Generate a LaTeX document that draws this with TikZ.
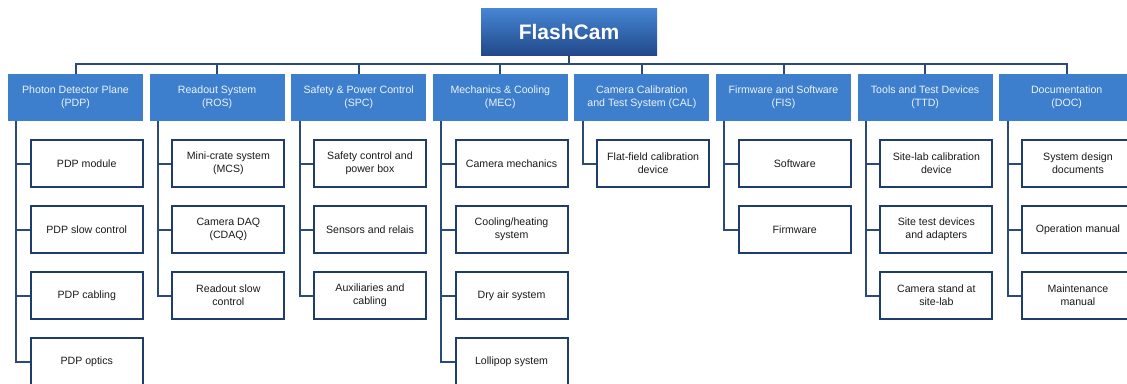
\documentclass[tikz,border=0pt]{standalone}
\usepackage{fontspec}
\setmainfont{Liberation Sans}
\definecolor{hdrfill}{HTML}{3D7FCC}
\definecolor{fctop}{HTML}{4686D4}
\definecolor{fcbot}{HTML}{21498A}
\definecolor{kidline}{HTML}{1F3D6B}
\definecolor{connline}{HTML}{2A4A7C}
\definecolor{hdrtext}{HTML}{EEF3FA}
\definecolor{kidtext}{HTML}{1A1A1A}
\tikzset{
  hdr/.style={fill=hdrfill, text=hdrtext, minimum width=135pt, minimum height=47pt,
    inner sep=0pt, align=center, font=\fontsize{10.6}{13.3}\selectfont},
  kid/.style={draw=kidline, line width=2pt, fill=white, text=kidtext, minimum width=112pt,
    minimum height=46.5pt, inner sep=0pt, align=center, font=\fontsize{10.6}{13.3}\selectfont},
  topbox/.style={top color=fctop, bottom color=fcbot, text=white, minimum width=176pt,
    minimum height=47pt, inner sep=0pt, font=\fontsize{21}{24}\selectfont\bfseries},
  conn/.style={draw=connline, line width=2pt}
}
\begin{document}
\begin{tikzpicture}[x=1pt,y=-1pt]
\useasboundingbox (0,0) rectangle (1127,383);
\node[topbox] (fc) at (569,31.5) {FlashCam};
\coordinate (bus) at (0,64);
\foreach \k/\hd in {
  0/{Photon Detector Plane\\(PDP)},
  1/{Readout System\\(ROS)},
  2/{Safety \& Power Control\\(SPC)},
  3/{Mechanics \& Cooling\\(MEC)},
  4/{Camera Calibration\\and Test System (CAL)},
  5/{Firmware and Software\\(FIS)},
  6/{Tools and Test Devices\\(TTD)},
  7/{Documentation\\(DOC)}}
{
  \node[hdr] (h\k) at ({75.5+141.6*\k},97.5) {\hd};
}
\draw[conn] (fc.south) -- (fc.south |- bus);
\draw[conn] (h0.north) -- (h0.north |- bus) -- (h7.north |- bus) -- (h7.north);
\foreach \k in {1,...,6} {
  \draw[conn] (h\k.north) -- (h\k.north |- bus);
}
\foreach \k/\j/\t in {
  0/0/{PDP module}, 0/1/{PDP slow control}, 0/2/{PDP cabling}, 0/3/{PDP optics},
  1/0/{Mini-crate system\\(MCS)}, 1/1/{Camera DAQ\\(CDAQ)}, 1/2/{Readout slow\\control},
  2/0/{Safety control and\\power box}, 2/1/{Sensors and relais}, 2/2/{Auxiliaries and\\cabling},
  3/0/{Camera mechanics}, 3/1/{Cooling/heating\\system}, 3/2/{Dry air system}, 3/3/{Lollipop system},
  4/0/{Flat-field calibration\\device},
  5/0/{Software}, 5/1/{Firmware},
  6/0/{Site-lab calibration\\device}, 6/1/{Site test devices\\and adapters}, 6/2/{Camera stand at\\site-lab},
  7/0/{System design\\documents}, 7/1/{Operation manual}, 7/2/{Maintenance\\manual}}
{
  \node[kid] (c\k\j) at ({86.75+141.6*\k},{163.5+66*\j}) {\t};
  \draw[conn] ([xshift=8.5pt]h\k.south west) |- (c\k\j.west);
}
\end{tikzpicture}
\end{document}
